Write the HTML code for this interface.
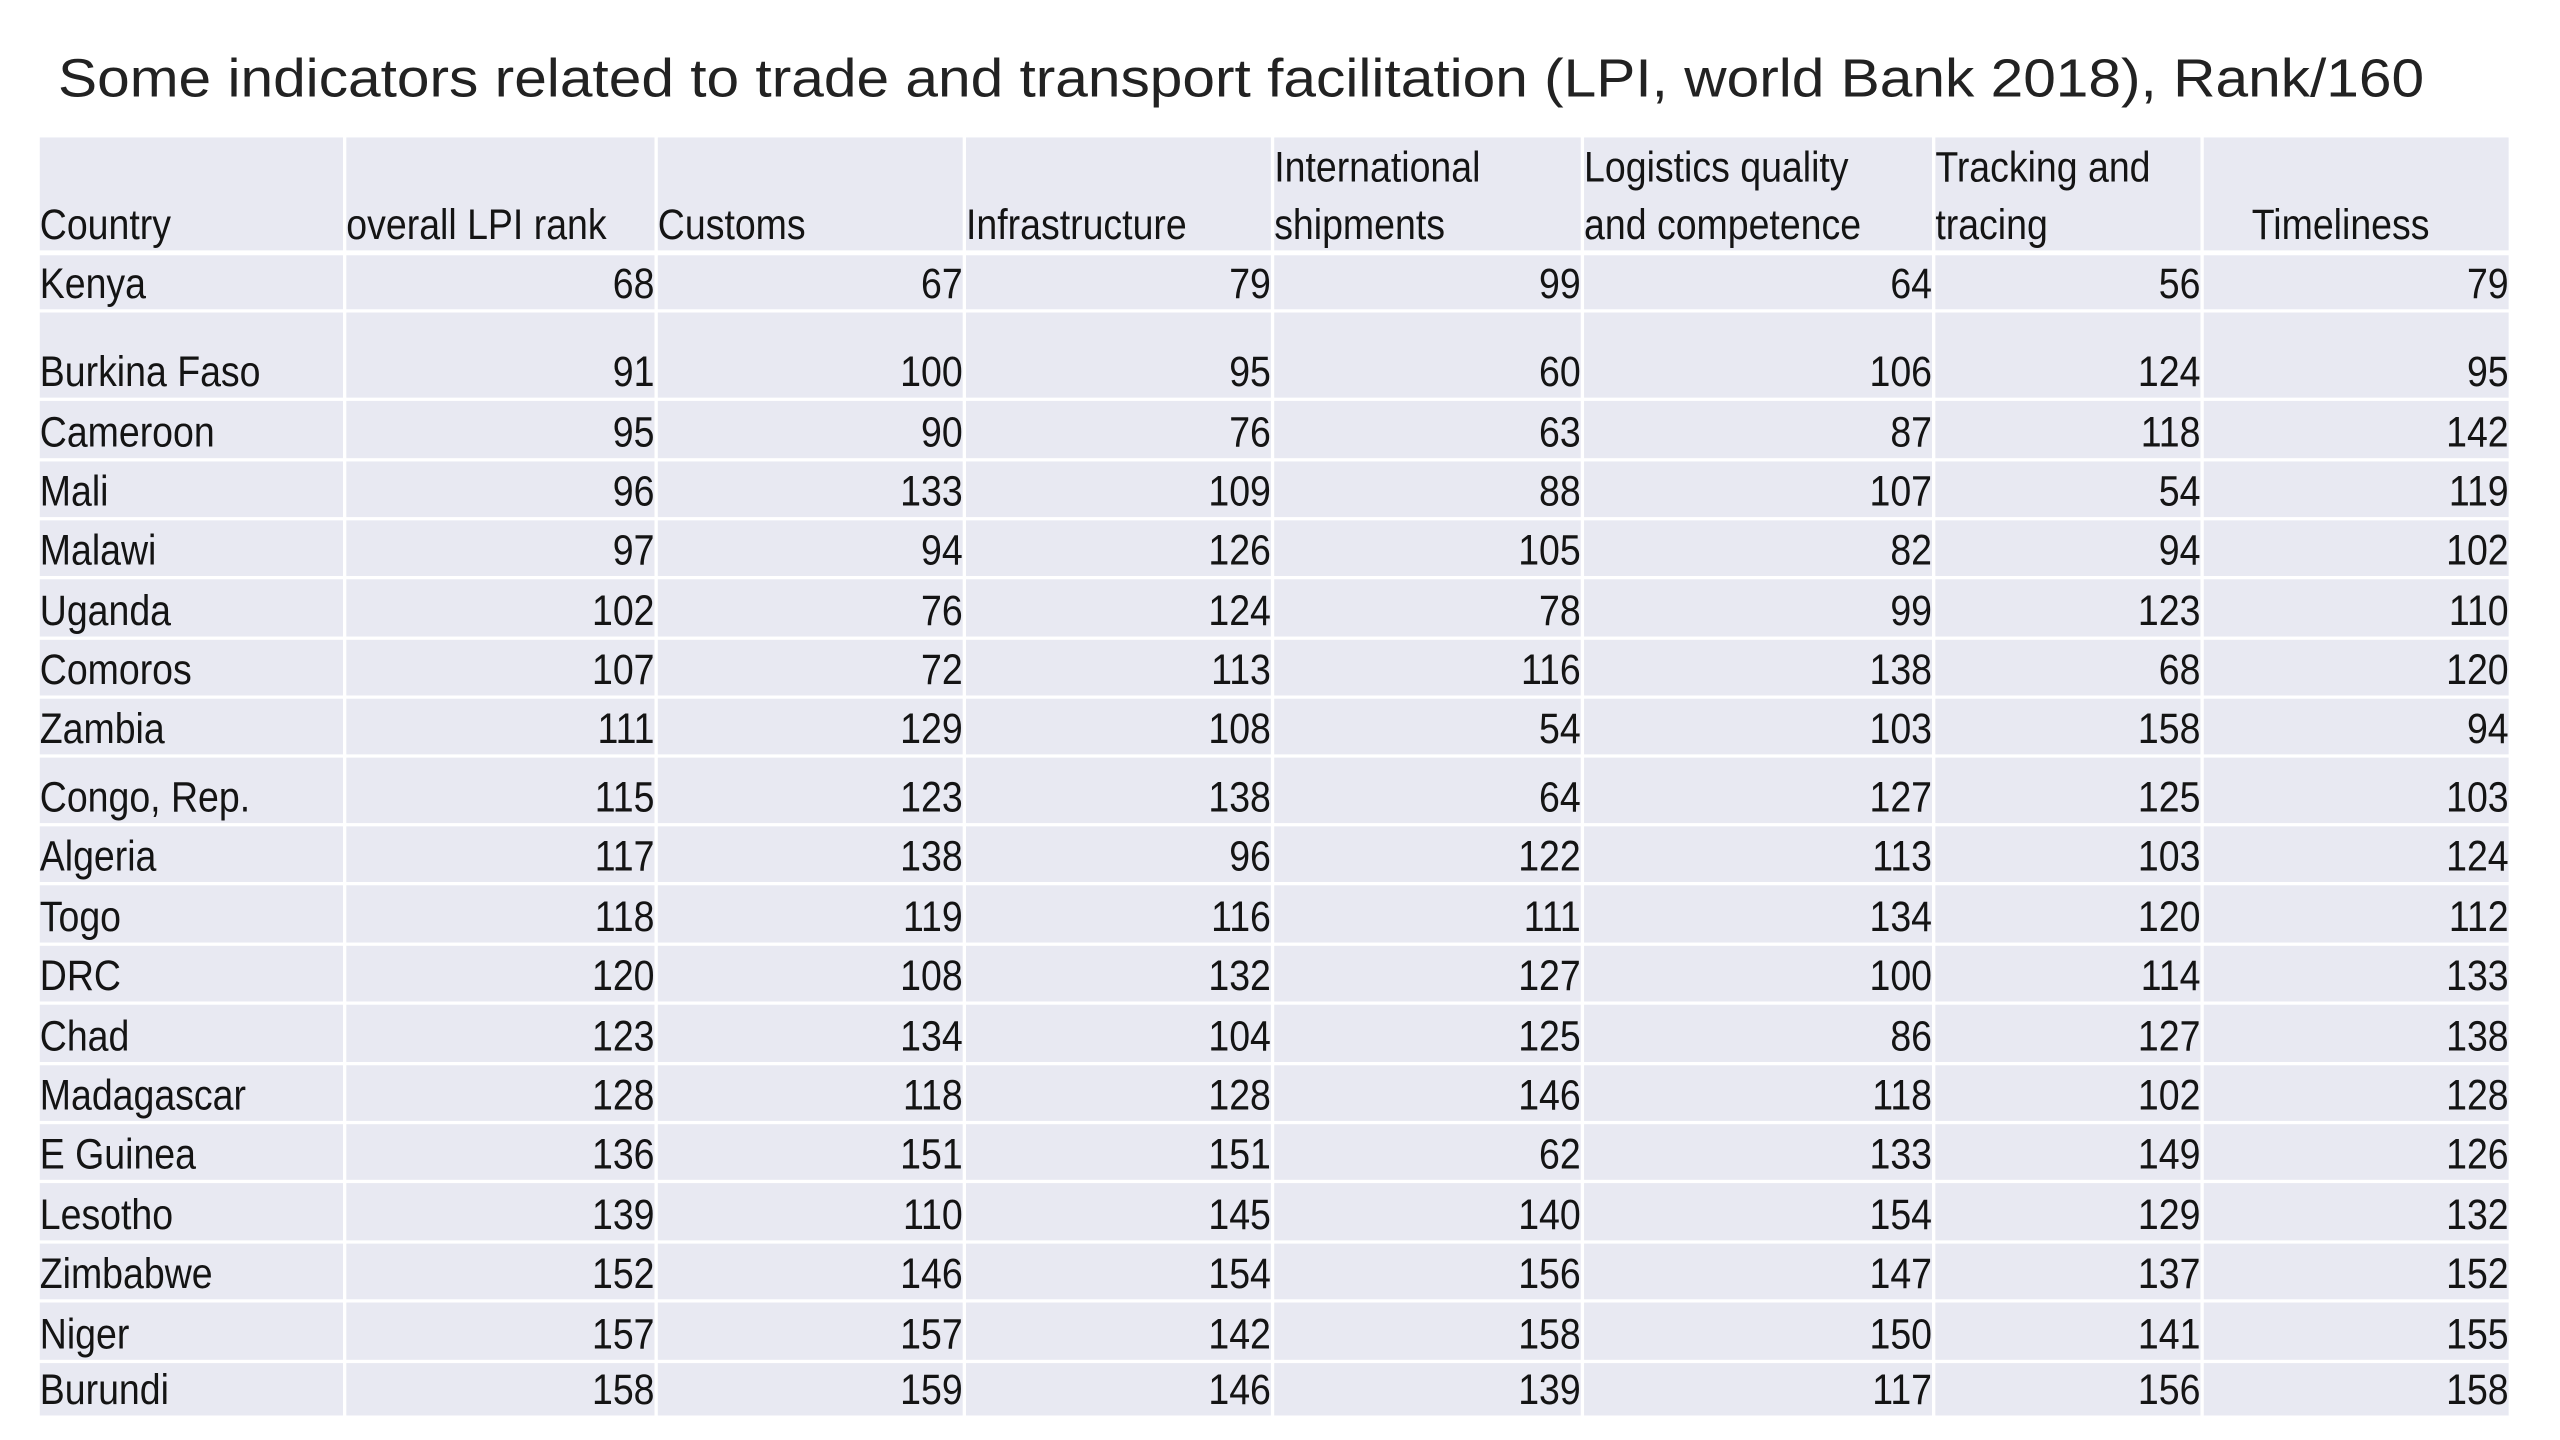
<!DOCTYPE html>
<html><head><meta charset="utf-8"><style>
html,body{margin:0;padding:0;background:#fff;width:2560px;height:1440px;overflow:hidden}
svg{display:block}
text{font-family:"Liberation Sans",sans-serif;fill:#141414}
</style></head><body>
<svg id="chart" width="2560" height="1440" viewBox="0 0 1545 880" preserveAspectRatio="none" xmlns="http://www.w3.org/2000/svg">
<text x="35" y="59" font-size="33" textLength="1428" lengthAdjust="spacingAndGlyphs" style="fill:#222">Some indicators related to trade and transport facilitation (LPI, world Bank 2018), Rank/160</text>
<g id="grid"></g>
<g id="cells"></g>
</svg>
<script>
const countries = ["Kenya","Burkina Faso","Cameroon","Mali","Malawi","Uganda","Comoros","Zambia","Congo, Rep.","Algeria","Togo","DRC","Chad","Madagascar","E Guinea","Lesotho","Zimbabwe","Niger","Burundi"];
const overallLPI = [68,91,95,96,97,102,107,111,115,117,118,120,123,128,136,139,152,157,158];
const customs = [67,100,90,133,94,76,72,129,123,138,119,108,134,118,151,110,146,157,159];
const infrastructure = [79,95,76,109,126,124,113,108,138,96,116,132,104,128,151,145,154,142,146];
const intlShipments = [99,60,63,88,105,78,116,54,64,122,111,127,125,146,62,140,156,158,139];
const logistics = [64,106,87,107,82,99,138,103,127,113,134,100,86,118,133,154,147,150,117];
const tracking = [56,124,118,54,94,123,68,158,125,103,120,114,127,102,149,129,137,141,156];
const timeliness = [79,95,142,119,102,110,120,94,103,124,112,133,138,128,126,132,152,155,158];
const headers = [["Country"],["overall LPI rank"],["Customs"],["Infrastructure"],["International","shipments"],["Logistics quality","and competence"],["Tracking and","tracing"],["Timeliness"]];

const NS="http://www.w3.org/2000/svg";
const colX=[23,208,396,582,768,955,1167,1329,1515];
const headTop=84, headBot=155;
const rowH=[35,54,37,36,36,37,36,36,42,36,37,36,37,36,36,37,36,37,34];
const series=[overallLPI,customs,infrastructure,intlShipments,logistics,tracking,timeliness];
const grid=document.getElementById('grid'), cells=document.getElementById('cells');
function rect(x,y,w,h){const r=document.createElementNS(NS,'rect');r.setAttribute('x',x);r.setAttribute('y',y);r.setAttribute('width',w);r.setAttribute('height',h);r.setAttribute('fill','#e8e9f2');return r;}
function txt(str,x,y,anchor){const t=document.createElementNS(NS,'text');t.setAttribute('transform','translate('+x+','+y+') scale(0.87,1)');t.setAttribute('font-size','26');t.setAttribute('text-anchor',anchor);t.textContent=str;return t;}
for(let c=0;c<8;c++){
  const r=rect(colX[c]+1,headTop,colX[c+1]-colX[c]-2,headBot-headTop-2);
  
  
  grid.appendChild(r);
  const lines=headers[c];
  const x = c===7 ? 1359 : colX[c]+1;
  lines.forEach((ln,i)=>{
    const y = lines.length===2 ? (i===0?111:146) : 146;
    const t=txt(ln,x,y,'start');
    
    
    cells.appendChild(t);
  });
}
let rowTop=headBot;
countries.forEach((name,r)=>{
  const h=rowH[r]||36;
  const base=rowTop+h-8;
  for(let c=0;c<8;c++){
    const rc=rect(colX[c]+1,rowTop+1,colX[c+1]-colX[c]-2,h-2);
    
    
    grid.appendChild(rc);
  }
  const t=txt(name,colX[0]+1,base,'start');
  
  
  cells.appendChild(t);
  series.forEach((s,c)=>{
    const v=txt(String(s[r]),colX[c+2]-1,base,'end');
    
    
    cells.appendChild(v);
  });
  rowTop+=h;
});
</script>
</body></html>
